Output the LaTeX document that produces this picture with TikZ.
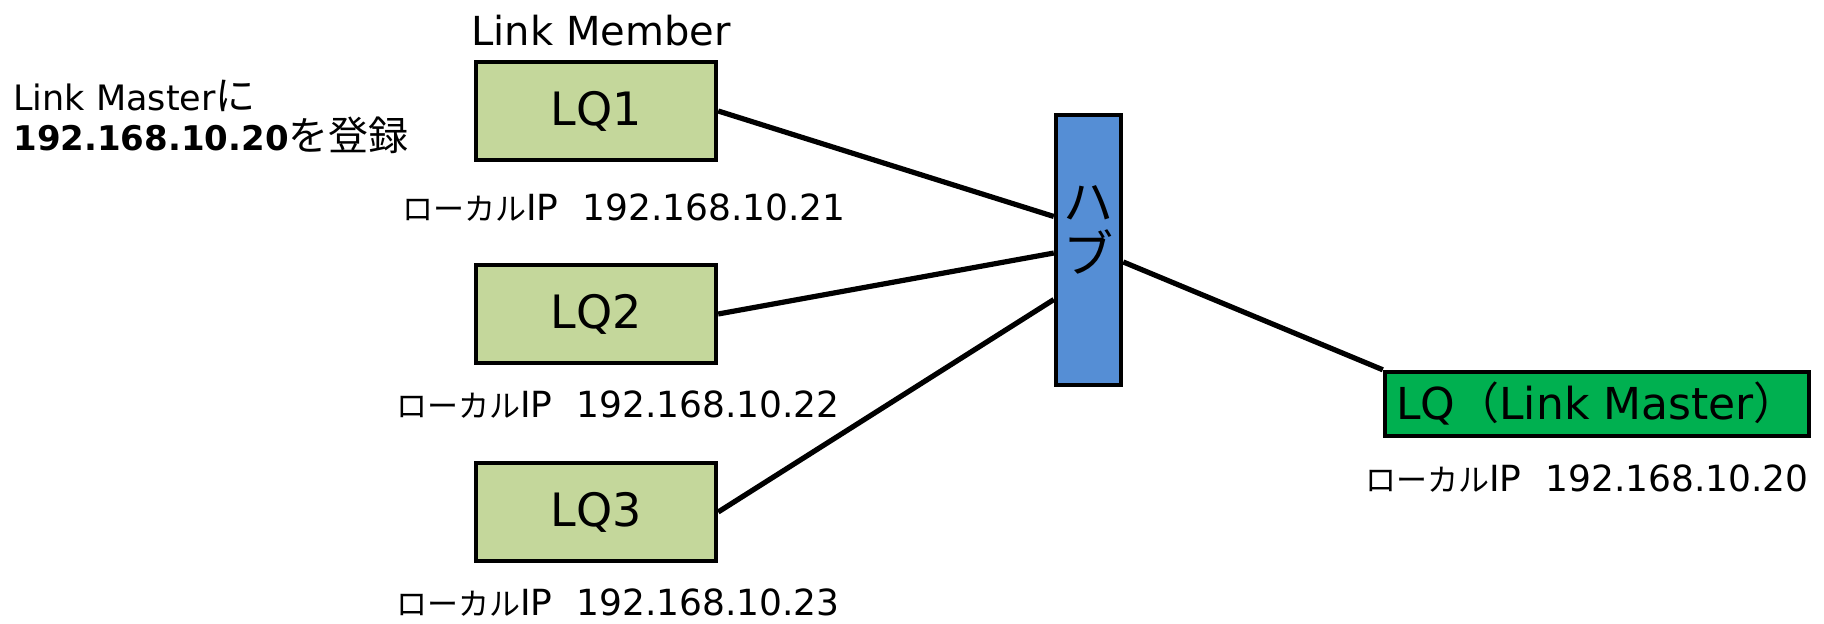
\documentclass[tikz,border=0pt]{standalone}
\usepackage{fontspec}
\setmainfont{DejaVu Sans}
\newfontfamily\jpfont{Noto Sans CJK JP}
\definecolor{lqgreen}{RGB}{196,215,155}
\definecolor{hubblue}{RGB}{85,142,213}
\definecolor{mastergreen}{RGB}{0,176,80}
\newcommand\localip[1]{{\jpfont\fontsize{15.5}{17}\selectfont ローカル}IP\hspace{12pt}#1}

\begin{document}
\begin{tikzpicture}[x=0.5pt,y=-0.5pt,
  lqbox/.style={draw,line width=2.2pt,fill=lqgreen,minimum width=120pt,minimum height=49pt,font=\fontsize{23}{26}\selectfont},
  hubbox/.style={draw,line width=2.2pt,fill=hubblue,minimum width=32.5pt,minimum height=135pt},
  masterbox/.style={draw,line width=2.2pt,fill=mastergreen,minimum width=212pt,minimum height=32pt,font=\fontsize{22}{26}\selectfont},
  iplabel/.style={anchor=base,inner sep=0pt,font=\fontsize{18}{21}\selectfont},
  txt/.style={anchor=base west,inner sep=0pt},
  link/.style={line width=2.6pt}]
\useasboundingbox (0,0) rectangle (1824,624);
%member boxes
\node[anchor=base,inner sep=0pt,font=\fontsize{20}{24}\selectfont] (member) at (601,46) {Link Member};
\foreach \n/\y/\x/\b/\ip in {1/111/624/221/21,2/314/618/418/22,3/512/618/615/23}{
\node[lqbox] (lq\n) at (596,\y) {LQ\n};
\node[iplabel] (ip\n) at (\x,\b) {\localip{192.168.10.\ip}};
}
%note
\node[txt,font=\fontsize{17.5}{20}\selectfont] (note1) at (13,111) {Link Master{\jpfont\fontsize{20}{22}\selectfont に}};
\node[txt,font=\fontsize{17}{20}\selectfont] (note2) at (13,151) {\textbf{192.168.10.20}{\jpfont\fontsize{20}{22}\selectfont を登録}};
%hub
\node[hubbox] (hub) at (1088.5,250) {};
\node[font=\jpfont\fontsize{25}{26}\selectfont,align=center,inner sep=0pt] (hubtxt) at (1088,230) {ハ\\ブ};
%master
\node[masterbox] (master) at (1597,404) {LQ{\jpfont （}Link Master{\jpfont ）}};
\node[iplabel] (ip0) at (1587,492) {\localip{192.168.10.20}};
%links
\foreach \n/\a in {1/136,2/185,3/235}
\draw[link] (lq\n.east) -- (hub.\a);
\draw[link] (hub.341) -- (master.north west);
\end{tikzpicture}
\end{document}
